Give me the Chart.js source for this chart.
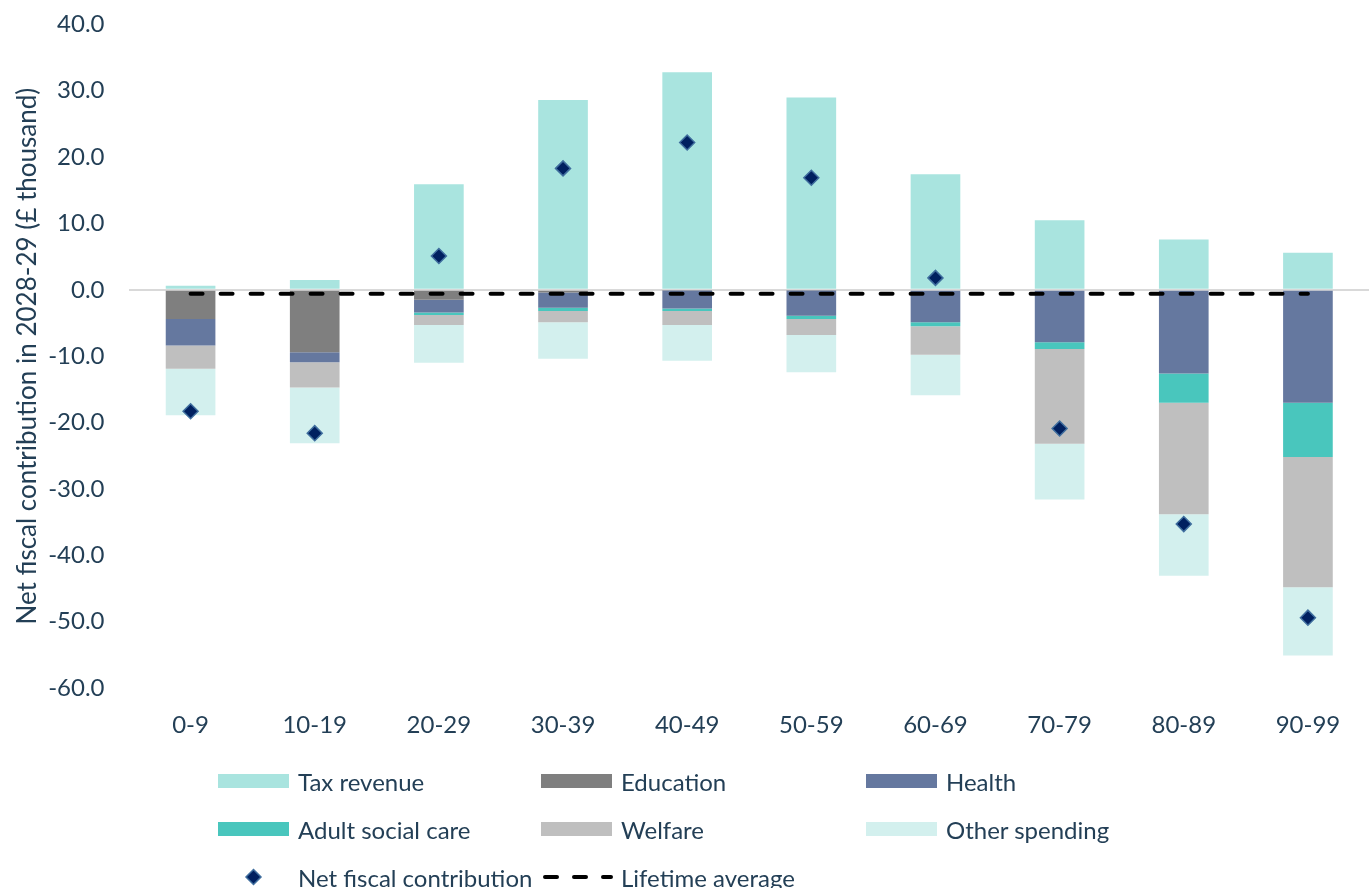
<!DOCTYPE html>
<html>
<head>
<meta charset="utf-8">
<script src="https://cdn.jsdelivr.net/npm/chart.js@4.4.1/dist/chart.umd.min.js"></script>
<style>
  html, body { margin: 0; padding: 0; background: #ffffff; overflow: hidden; width: 1369px; height: 888px; }
  #wrap { position: absolute; left: 0; top: -14px; width: 1379px; height: 759px; }
  #legend { position: absolute; left: 0; top: 0; width: 1369px; height: 888px; pointer-events: none;
            font-family: Lato, "Open Sans", sans-serif; font-size: 24px; color: #233f56; }
  .item { position: absolute; display: flex; align-items: center; height: 30px; white-space: nowrap; }
  .item svg { display: block; margin-right: 8px; }
</style>
</head>
<body>
<div id="wrap"><canvas id="c"></canvas></div>
<div id="legend"></div>
<script>
const categories = ['0-9','10-19','20-29','30-39','40-49','50-59','60-69','70-79','80-89','90-99'];
const taxRevenue    = [0.6, 1.5, 15.9, 28.6, 32.8, 29.0, 17.4, 10.5, 7.6, 5.6];
const education     = [-4.4, -9.4, -1.5, -0.4, -0.1, -0.1, 0, 0, 0, 0];
const health        = [-4.0, -1.5, -1.9, -2.3, -2.7, -3.8, -4.9, -7.9, -12.6, -17.0];
const adultSocial   = [0, 0, -0.4, -0.5, -0.4, -0.5, -0.6, -1.0, -4.4, -8.2];
const welfare       = [-3.5, -3.8, -1.5, -1.7, -2.1, -2.4, -4.3, -14.3, -16.8, -19.6];
const otherSpending = [-7.0, -8.4, -5.7, -5.5, -5.4, -5.6, -6.1, -8.4, -9.3, -10.3];
const netFiscal     = [-18.3, -21.6, 5.1, 18.3, 22.2, 16.9, 1.8, -20.9, -35.3, -49.4];
const lifetimeAvg   = [-0.6, -0.6, -0.6, -0.6, -0.6, -0.6, -0.6, -0.6, -0.6, -0.6];
const yTicks = [40, 30, 20, 10, 0, -10, -20, -30, -40, -50, -60];

const TEXT = '#233f56';
const FONT = 'Lato, "Open Sans", sans-serif';

function bar(label, data, color) {
  return { type: 'bar', label, data, backgroundColor: color, borderWidth: 0,
           stack: 'bars', order: 2, categoryPercentage: 0.8, barPercentage: 0.5 };
}

const datasets = [
  bar('Tax revenue', taxRevenue, '#a9e4df'),
  bar('Education', education, '#7f7f7f'),
  bar('Health', health, '#65789f'),
  bar('Adult social care', adultSocial, '#49c6bd'),
  bar('Welfare', welfare, '#bfbfbf'),
  bar('Other spending', otherSpending, '#d3f0ee'),
  { type: 'line', label: 'Net fiscal contribution', data: netFiscal, showLine: false, stack: 'net',
    pointStyle: 'rectRot', pointRadius: 7.5, pointHoverRadius: 7.5,
    pointBackgroundColor: '#002060', pointBorderColor: '#3f6e9e', pointBorderWidth: 1.5,
    backgroundColor: '#002060', borderColor: '#3f6e9e', order: 0 },
  { type: 'line', label: 'Lifetime average', data: lifetimeAvg, stack: 'avg', borderColor: '#000000',
    borderWidth: 4, borderDash: [12, 18], borderCapStyle: 'round', pointRadius: 0,
    fill: false, order: 1 }
];

const chart = new Chart(document.getElementById('c'), {
  data: { labels: categories, datasets },
  options: {
    responsive: true, maintainAspectRatio: false, animation: false,
    layout: { padding: { top: 0, left: 0, right: 0, bottom: 0 } },
    plugins: { legend: { display: false }, tooltip: { enabled: false } },
    scales: {
      x: {
        stacked: true,
        grid: { display: false }, border: { display: false },
        ticks: { color: TEXT, font: { family: FONT, size: 24 }, padding: 15, maxRotation: 0 },
        afterFit: s => { s.height = 57; }
      },
      y: {
        stacked: true, min: -60, max: 40, z: 1,
        afterBuildTicks: s => { s.ticks = yTicks.map(v => ({ value: v })); },
        ticks: { color: TEXT, font: { family: FONT, size: 24 }, padding: 24,
                 callback: v => Number(v).toFixed(1) },
        grid: { drawTicks: false, lineWidth: 2,
                color: c => (c.tick && c.tick.value === 0) ? '#d9d9d9' : 'rgba(0,0,0,0)' },
        border: { display: false },
        title: { display: true, text: 'Net fiscal contribution in 2028-29 (£ thousand)',
                 color: TEXT, font: { family: FONT, size: 26 }, padding: { top: 12, bottom: 0 } },
        afterFit: s => { s.width = 128.5; }
      }
    }
  }
});

// HTML legend built from the chart's datasets
const legend = document.getElementById('legend');
const colX = [218, 541, 866];
const rowY = [781, 829, 877];
chart.data.datasets.forEach((ds, i) => {
  const col = i < 6 ? i % 3 : i - 6;
  const row = i < 6 ? Math.floor(i / 3) : 2;
  const item = document.createElement('div');
  item.className = 'item';
  item.style.left = colX[col] + 'px';
  item.style.top = (rowY[row] - 15) + 'px';
  const ns = 'http://www.w3.org/2000/svg';
  const svg = document.createElementNS(ns, 'svg');
  svg.setAttribute('width', '72'); svg.setAttribute('height', '30');
  if (ds.type === 'bar') {
    const r = document.createElementNS(ns, 'rect');
    r.setAttribute('x', '0'); r.setAttribute('y', '8'); r.setAttribute('width', '71'); r.setAttribute('height', '14');
    r.setAttribute('fill', ds.backgroundColor);
    svg.appendChild(r);
  } else if (ds.pointStyle === 'rectRot') {
    const p = document.createElementNS(ns, 'polygon');
    p.setAttribute('points', '35.5,7.5 43,15 35.5,22.5 28,15');
    p.setAttribute('fill', ds.pointBackgroundColor);
    p.setAttribute('stroke', ds.pointBorderColor); p.setAttribute('stroke-width', '1.5');
    svg.appendChild(p);
  } else {
    const l = document.createElementNS(ns, 'line');
    l.setAttribute('x1', '4'); l.setAttribute('y1', '15'); l.setAttribute('x2', '70'); l.setAttribute('y2', '15');
    l.setAttribute('stroke', ds.borderColor); l.setAttribute('stroke-width', '4');
    l.setAttribute('stroke-dasharray', '12 17'); l.setAttribute('stroke-linecap', 'round');
    svg.appendChild(l);
  }
  item.appendChild(svg);
  const t = document.createElement('span');
  t.textContent = ds.label;
  item.appendChild(t);
  legend.appendChild(item);
});
</script>
</body>
</html>
